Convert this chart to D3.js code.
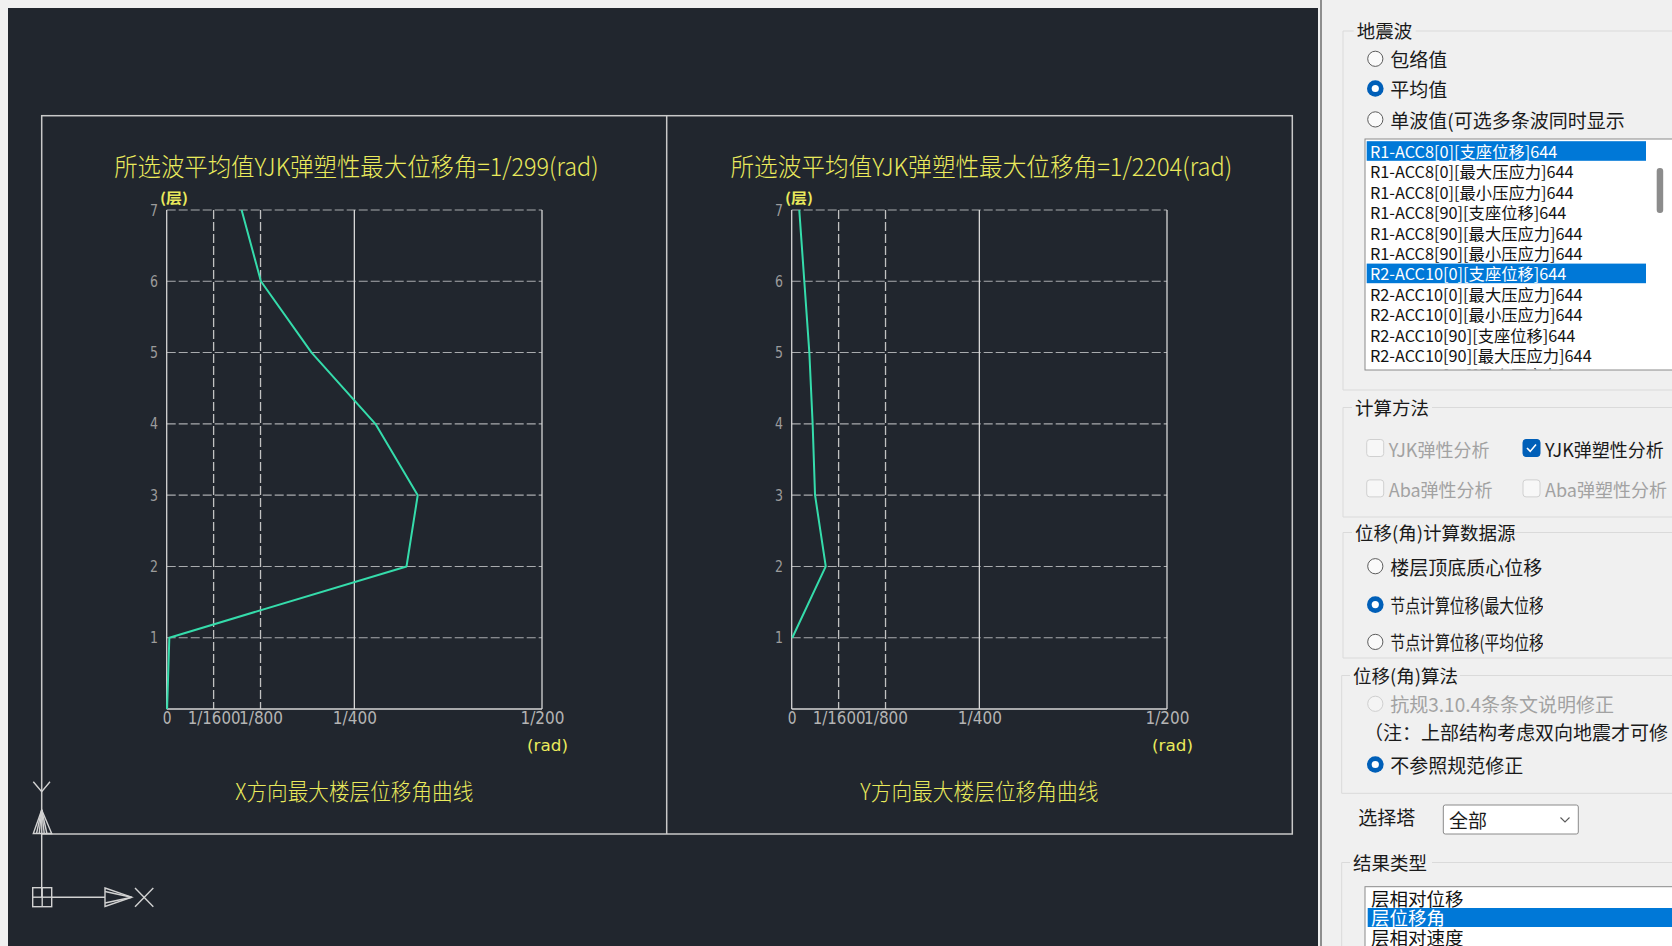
<!DOCTYPE html>
<html>
<head>
<meta charset="utf-8">
<script src="https://cdn.jsdelivr.net/npm/d3@7"></script>
<style>
  html, body { margin: 0; padding: 0; background: #f0f0f0; overflow: hidden; }
  svg { display: block; }
</style>
</head>
<body>
<svg id="view" width="1672" height="946"></svg>
<script>
// Storey levels and mean elastic-plastic inter-storey drift ratios (rad), X direction
const floorsX = [0, 1, 2, 3, 4, 5, 6, 7];
const driftX = [0.000005, 0.000035, 0.003195, 1 / 299, 0.00278, 0.00193, 0.001255, 0.000998];

// Y direction
const floorsY = [1, 2, 3, 4, 5, 6, 7];
const driftY = [0.000008, 1 / 2204, 0.000311, 0.000279, 0.000235, 0.000168, 0.000101];

// Axis ticks
const xTickValues = [0, 1 / 1600, 1 / 800, 1 / 400, 1 / 200];
const xTickLabels = ["0", "1/1600", "1/800", "1/400", "1/200"];
const dashedTicks = [1 / 1600, 1 / 800];
const yTickValues = [1, 2, 3, 4, 5, 6, 7];

// Side panel contents
const waveOptions = ["包络值", "平均值", "单波值(可选多条波同时显示"];
const waveList = [
  "R1-ACC8[0][支座位移]644",
  "R1-ACC8[0][最大压应力]644",
  "R1-ACC8[0][最小压应力]644",
  "R1-ACC8[90][支座位移]644",
  "R1-ACC8[90][最大压应力]644",
  "R1-ACC8[90][最小压应力]644",
  "R2-ACC10[0][支座位移]644",
  "R2-ACC10[0][最大压应力]644",
  "R2-ACC10[0][最小压应力]644",
  "R2-ACC10[90][支座位移]644",
  "R2-ACC10[90][最大压应力]644",
  "R2-ACC10[90][最小压应力]644"
];
const selectedWaves = [0, 6];
const sourceOptions = ["楼层顶底质心位移", "节点计算位移(最大位移)", "节点计算位移(平均位移)"];
const resultTypes = ["层相对位移", "层位移角", "层相对速度"];

const svg = d3.select("#view");
const cjk = "'Noto Sans CJK SC', 'Noto Sans', sans-serif";
const cadYellow = "#eaea5c";
const curveColor = "#35dcab";

// ---------- drawing canvas ----------
svg.append("rect").attr("x", 8).attr("y", 8).attr("width", 1310).attr("height", 940).attr("fill", "#21262e");

const frame = svg.append("g").attr("stroke", "#c9c9c9").attr("stroke-width", 1.5).attr("fill", "none");
frame.append("rect").attr("x", 41.7).attr("y", 115.7).attr("width", 1250.6).attr("height", 718.3);
frame.append("line").attr("x1", 666.7).attr("x2", 666.7).attr("y1", 115.7).attr("y2", 834);

// ---------- drift charts ----------
const plotTop = 210, plotBottom = 709, plotWidth = 375.3;
const charts = [
  { left: 166.7, dir: "X", floors: floorsX, drift: driftX },
  { left: 791.7, dir: "Y", floors: floorsY, drift: driftY }
];

charts.forEach(c => {
  const x = d3.scaleLinear().domain([0, 1 / 200]).range([c.left, c.left + plotWidth]);
  const y = d3.scaleLinear().domain([0, 7]).range([plotBottom, plotTop]);
  const g = svg.append("g");

  // horizontal storey grid (dashed), top edge included
  g.selectAll("line.hgrid").data(yTickValues).join("line")
    .attr("x1", x(0)).attr("x2", x(1 / 200))
    .attr("y1", d => y(d)).attr("y2", d => y(d))
    .attr("stroke", "#a9abae").attr("stroke-width", 1.1).attr("stroke-dasharray", "9,3");

  // vertical reference lines
  g.selectAll("line.vgrid").data(xTickValues).join("line")
    .attr("x1", d => x(d)).attr("x2", d => x(d))
    .attr("y1", y(7)).attr("y2", y(0))
    .attr("stroke", d => dashedTicks.includes(d) ? "#c2c2c2" : "#d6d6d6")
    .attr("stroke-width", 1.3)
    .attr("stroke-dasharray", d => dashedTicks.includes(d) ? "9,3" : null);

  // bottom edge
  g.append("line").attr("x1", x(0)).attr("x2", x(1 / 200)).attr("y1", y(0)).attr("y2", y(0))
    .attr("stroke", "#d6d6d6").attr("stroke-width", 1.5);

  // x tick labels
  const xAxis = d3.axisBottom(x).tickValues(xTickValues)
    .tickFormat((d, i) => xTickLabels[i]).tickSize(0).tickPadding(3);
  g.append("g").attr("transform", `translate(0,${plotBottom})`).call(xAxis)
    .call(a => a.select(".domain").remove())
    .selectAll("text")
    .attr("fill", "#b4b4b4").attr("font-family", "'DejaVu Sans', sans-serif").attr("font-size", 17)
    .attr("textLength", (d, i) => xTickLabels[i].length * 8.8)
    .attr("lengthAdjust", "spacingAndGlyphs");

  // storey tick labels
  const yAxis = d3.axisLeft(y).tickValues(yTickValues).tickFormat(d3.format("d"))
    .tickSize(0).tickPadding(8.7);
  g.append("g").attr("transform", `translate(${c.left},0)`).call(yAxis)
    .call(a => a.select(".domain").remove())
    .selectAll("text")
    .attr("fill", "#9c9c9c").attr("font-family", "'DejaVu Sans', sans-serif").attr("font-size", 16)
    .attr("textLength", 8).attr("lengthAdjust", "spacingAndGlyphs");

  // drift curve
  const pts = c.floors.map((f, i) => [x(c.drift[i]), y(f)]);
  g.append("path").attr("d", d3.line()(pts))
    .attr("fill", "none").attr("stroke", curveColor).attr("stroke-width", 2)
    .attr("stroke-linejoin", "round");

  // headings
  const peak = Math.round(1 / d3.max(c.drift));
  const title = `所选波平均值YJK弹塑性最大位移角=1/${peak}(rad)`;
  g.append("text").text(title)
    .attr("x", c.left + plotWidth / 2 + 2).attr("y", 176).attr("text-anchor", "middle")
    .attr("font-family", cjk).attr("font-size", 25).attr("font-weight", 300).attr("fill", cadYellow)
    .attr("textLength", title.length * 17.3).attr("lengthAdjust", "spacingAndGlyphs");

  g.append("text").text("(层)")
    .attr("x", c.left - 6.7).attr("y", 203)
    .attr("font-family", cjk).attr("font-size", 14).attr("font-weight", 700).attr("fill", cadYellow)
    .attr("textLength", 28).attr("lengthAdjust", "spacingAndGlyphs");

  g.append("text").text("(rad)")
    .attr("x", c.left + plotWidth + 26).attr("y", 751).attr("text-anchor", "end")
    .attr("font-family", "'DejaVu Sans', sans-serif").attr("font-size", 15).attr("fill", cadYellow)
    .attr("textLength", 41).attr("lengthAdjust", "spacingAndGlyphs");

  const caption = `${c.dir}方向最大楼层位移角曲线`;
  g.append("text").text(caption)
    .attr("x", c.left + plotWidth / 2).attr("y", 799.5).attr("text-anchor", "middle")
    .attr("font-family", cjk).attr("font-size", 23).attr("font-weight", 300).attr("fill", cadYellow)
    .attr("textLength", 238).attr("lengthAdjust", "spacingAndGlyphs");
});

// ---------- UCS icon ----------
const ucs = svg.append("g").attr("stroke", "#d2d2d2").attr("stroke-width", 1.4).attr("fill", "none");
ucs.append("line").attr("x1", 41.7).attr("x2", 41.7).attr("y1", 834).attr("y2", 897);
ucs.append("path").attr("d", "M33.3,781.7 L41.7,791.7 L50,781.7");
ucs.append("path").attr("d", "M41.7,810 L33.3,833.5 L51.7,833.5 Z");
[36.5, 39.2, 44.2, 46.9].forEach(bx => ucs.append("line")
  .attr("x1", 41.7).attr("y1", 810).attr("x2", bx).attr("y2", 833.5));
ucs.append("rect").attr("x", 32.7).attr("y", 887.7).attr("width", 19).attr("height", 19);
ucs.append("line").attr("x1", 42.2).attr("x2", 42.2).attr("y1", 887.7).attr("y2", 906.7);
ucs.append("line").attr("x1", 32.7).attr("x2", 51.7).attr("y1", 897.2).attr("y2", 897.2);
ucs.append("line").attr("x1", 51.7).attr("x2", 105).attr("y1", 897.2).attr("y2", 897.2);
ucs.append("path").attr("d", "M105,888 L131.7,897.2 L105,906.4 Z");
ucs.append("path").attr("d", "M105,891.5 L131.7,897.2 L105,903");
ucs.append("line").attr("x1", 135).attr("y1", 888).attr("x2", 153.3).attr("y2", 906.7);
ucs.append("line").attr("x1", 135).attr("y1", 906.7).attr("x2", 153.3).attr("y2", 888);

// ---------- side panel ----------
const panel = svg.append("g");
panel.append("rect").attr("x", 1318).attr("y", 0).attr("width", 354).attr("height", 946).attr("fill", "#f0f0f0");
panel.append("line").attr("x1", 1321).attr("x2", 1321).attr("y1", 0).attr("y2", 946)
  .attr("stroke", "#8e8e8e").attr("stroke-width", 2);

const textDark = "#1a1a1a", textGrey = "#a2a2a2";

function groupBox(label, x, top, bottom, labelX, labelW) {
  const gb = panel.append("g").attr("stroke", "#dadada").attr("stroke-width", 1).attr("fill", "none");
  gb.append("line").attr("x1", x).attr("x2", labelX - 3).attr("y1", top).attr("y2", top);
  gb.append("line").attr("x1", labelX + labelW + 3).attr("x2", 1680).attr("y1", top).attr("y2", top);
  gb.append("line").attr("x1", x).attr("x2", x).attr("y1", top).attr("y2", bottom);
  if (bottom < 946) gb.append("line").attr("x1", x).attr("x2", 1680).attr("y1", bottom).attr("y2", bottom);
  panel.append("text").text(label).attr("x", labelX).attr("y", top - 1)
    .attr("dominant-baseline", "central").attr("font-family", cjk).attr("font-size", 18.5).attr("fill", textDark);
}

function radioMark(cx, cy, state) {
  if (state === "on") {
    panel.append("circle").attr("cx", cx).attr("cy", cy).attr("r", 8.3).attr("fill", "#005fb8");
    panel.append("circle").attr("cx", cx).attr("cy", cy).attr("r", 3.6).attr("fill", "#ffffff");
  } else {
    panel.append("circle").attr("cx", cx).attr("cy", cy).attr("r", 7.6)
      .attr("fill", state === "off" ? "#fafafa" : "#f4f4f4")
      .attr("stroke", state === "off" ? "#5c5c5c" : "#cfcfcf").attr("stroke-width", 1);
  }
}

function radio(cx, cy, state, label) {
  radioMark(cx, cy, state);
  panel.append("text").text(label).attr("x", cx + 15).attr("y", cy)
    .attr("dominant-baseline", "central").attr("font-family", cjk).attr("font-size", 19)
    .attr("fill", state === "disabled" ? textGrey : textDark);
}

// radio whose caption is condensed to the control width and clipped at its right edge
function fittedRadio(cx, cy, state, label, rightEdge) {
  radioMark(cx, cy, state);
  const id = "clip" + Math.round(cy);
  svg.append("clipPath").attr("id", id).append("rect")
    .attr("x", cx).attr("y", cy - 15).attr("width", rightEdge - cx).attr("height", 30);
  const t = panel.append("g").attr("clip-path", `url(#${id})`)
    .append("text").text(label).attr("x", cx + 15).attr("y", cy)
    .attr("dominant-baseline", "central").attr("font-family", cjk).attr("font-size", 19).attr("fill", textDark);
  const natural = t.node().getComputedTextLength();
  const avail = rightEdge + 6 - (cx + 15);
  if (natural > avail) t.attr("textLength", avail).attr("lengthAdjust", "spacingAndGlyphs");
}

function checkbox(x, cy, checked, label) {
  panel.append("rect").attr("x", x).attr("y", cy - 8.5).attr("width", 17).attr("height", 17).attr("rx", 3)
    .attr("fill", checked ? "#005fb8" : "#f7f7f7")
    .attr("stroke", checked ? "#005fb8" : "#d0d0d0").attr("stroke-width", 1);
  if (checked) {
    panel.append("path").attr("d", `M${x + 4},${cy} L${x + 7.2},${cy + 3.4} L${x + 13},${cy - 3.6}`)
      .attr("fill", "none").attr("stroke", "#ffffff").attr("stroke-width", 1.6);
  }
  panel.append("text").text(label).attr("x", x + 22).attr("y", cy + 1)
    .attr("dominant-baseline", "central").attr("font-family", cjk).attr("font-size", 18)
    .attr("fill", checked ? textDark : textGrey);
}

// earthquake wave group
groupBox("地震波", 1343, 31, 390, 1356.7, 56);
const waveRows = [58.8, 88.5, 119.4];
waveOptions.forEach((w, i) => radio(1375.3, waveRows[i], i === 1 ? "on" : "off", w));

// wave list box
panel.append("rect").attr("x", 1365).attr("y", 139).attr("width", 330).attr("height", 231)
  .attr("fill", "#ffffff").attr("stroke", "#8a8a8a").attr("stroke-width", 1);
svg.append("clipPath").attr("id", "waveClip").append("rect")
  .attr("x", 1366).attr("y", 139.8).attr("width", 320).attr("height", 229.5);
const listG = panel.append("g").attr("clip-path", "url(#waveClip)");
const rowY = d3.scaleLinear().domain([0, 1]).range([151, 171.4]);
waveList.forEach((w, i) => {
  const sel = selectedWaves.includes(i);
  if (sel) listG.append("rect").attr("x", 1366.7).attr("y", rowY(i) - 9.8).attr("width", 279.3).attr("height", 19.6)
    .attr("fill", "#0078d7");
  listG.append("text").text(w).attr("x", 1370).attr("y", rowY(i))
    .attr("dominant-baseline", "central").attr("font-family", cjk).attr("font-size", 16.3)
    .attr("fill", sel ? "#ffffff" : "#111111");
});
panel.append("rect").attr("x", 1656.7).attr("y", 168).attr("width", 6.5).attr("height", 45).attr("rx", 3)
  .attr("fill", "#8c8c8c");

// analysis method group
groupBox("计算方法", 1343, 407.5, 517, 1355, 74);
checkbox(1366.7, 448, false, "YJK弹性分析");
checkbox(1523, 448, true, "YJK弹塑性分析");
checkbox(1366.7, 488.4, false, "Aba弹性分析");
checkbox(1523, 488.4, false, "Aba弹塑性分析");

// displacement source group
groupBox("位移(角)计算数据源", 1343, 532.5, 658, 1355, 152);
const srcRows = [566.2, 604.6, 641.9];
sourceOptions.forEach((s, i) => fittedRadio(1375.3, srcRows[i], i === 1 ? "on" : "off", s, 1543));

// drift algorithm group
groupBox("位移(角)算法", 1341.7, 675.5, 793.3, 1353, 104);
radio(1375.3, 703.8, "disabled", "抗规3.10.4条条文说明修正");
panel.append("text").text("（注：上部结构考虑双向地震才可修").attr("x", 1364).attr("y", 731.5)
  .attr("dominant-baseline", "central").attr("font-family", cjk).attr("font-size", 19).attr("fill", textDark);
radio(1375.3, 764.5, "on", "不参照规范修正");

// tower selector
panel.append("text").text("选择塔").attr("x", 1358.3).attr("y", 816.8)
  .attr("dominant-baseline", "central").attr("font-family", cjk).attr("font-size", 19).attr("fill", textDark);
panel.append("rect").attr("x", 1443.3).attr("y", 805).attr("width", 135).attr("height", 29).attr("rx", 2)
  .attr("fill", "#ffffff").attr("stroke", "#8a8a8a").attr("stroke-width", 1);
panel.append("text").text("全部").attr("x", 1449).attr("y", 819.5)
  .attr("dominant-baseline", "central").attr("font-family", cjk).attr("font-size", 19).attr("fill", textDark);
panel.append("path").attr("d", "M1560.5,817.5 L1565,822 L1569.5,817.5")
  .attr("fill", "none").attr("stroke", "#5a5a5a").attr("stroke-width", 1.1);

// result type group
groupBox("结果类型", 1341.7, 862.5, 1000, 1353, 76);
panel.append("rect").attr("x", 1365).attr("y", 886.7).attr("width", 330).attr("height", 80)
  .attr("fill", "#ffffff").attr("stroke", "#8a8a8a").attr("stroke-width", 1);
const typeRowY = [897.8, 917.3, 937.3];
resultTypes.forEach((t, i) => {
  if (i === 1) panel.append("rect").attr("x", 1367.7).attr("y", 908).attr("width", 320).attr("height", 19)
    .attr("fill", "#0078d7");
  panel.append("text").text(t).attr("x", 1371).attr("y", typeRowY[i])
    .attr("dominant-baseline", "central").attr("font-family", cjk).attr("font-size", 18.5)
    .attr("fill", i === 1 ? "#ffffff" : "#111111");
});
</script>
</body>
</html>
